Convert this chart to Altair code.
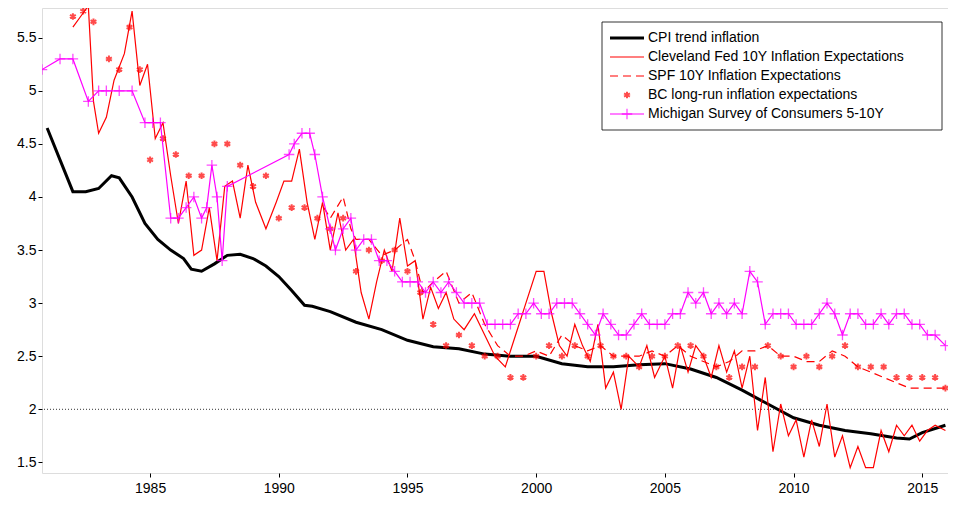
import altair as alt
import pandas as pd

# (year, value)
cpi_trend = [(1981.0, 4.65), (1981.5, 4.35), (1982.0, 4.05), (1982.5, 4.05), (1983.0, 4.08),
             (1983.5, 4.2), (1983.8, 4.18), (1984.3, 4.0), (1984.8, 3.75), (1985.3, 3.6),
             (1985.8, 3.5), (1986.3, 3.42), (1986.6, 3.32), (1987.0, 3.3), (1987.5, 3.37),
             (1988.0, 3.45), (1988.5, 3.46), (1989.0, 3.42), (1989.5, 3.35), (1990.0, 3.25),
             (1990.5, 3.12), (1991.0, 2.98), (1991.3, 2.97), (1992.0, 2.92), (1993.0, 2.82),
             (1994.0, 2.75), (1995.0, 2.65), (1996.0, 2.59), (1997.0, 2.57), (1998.0, 2.52),
             (1999.0, 2.5), (2000.0, 2.5), (2001.0, 2.43), (2002.0, 2.4), (2003.0, 2.4),
             (2004.0, 2.42), (2005.0, 2.43), (2006.0, 2.38), (2007.0, 2.3), (2008.0, 2.18),
             (2009.0, 2.05), (2010.0, 1.92), (2011.0, 1.85), (2012.0, 1.8), (2013.0, 1.77),
             (2014.0, 1.73), (2014.5, 1.72), (2015.0, 1.78), (2015.9, 1.85)]

cleveland = [(1982.0, 5.6), (1982.3, 5.7), (1982.6, 5.8), (1982.8, 4.9), (1983.0, 4.6),
             (1983.3, 4.75), (1983.6, 5.1), (1984.0, 5.35), (1984.3, 5.75), (1984.6, 5.05),
             (1984.9, 5.25), (1985.2, 4.55), (1985.5, 4.7), (1985.8, 4.2), (1986.1, 3.75),
             (1986.4, 4.15), (1986.7, 3.45), (1987.0, 3.5), (1987.3, 3.9), (1987.6, 3.4),
             (1987.9, 4.1), (1988.2, 4.15), (1988.5, 3.8), (1988.8, 4.3), (1989.1, 3.95),
             (1989.5, 3.7), (1989.9, 3.95), (1990.2, 4.15), (1990.5, 4.15), (1990.8, 4.45),
             (1991.1, 3.95), (1991.4, 3.6), (1991.7, 3.95), (1992.0, 3.5), (1992.3, 3.85),
             (1992.6, 3.5), (1992.9, 3.6), (1993.2, 3.1), (1993.5, 2.85), (1993.8, 3.2),
             (1994.1, 3.5), (1994.4, 3.3), (1994.7, 3.8), (1995.0, 3.35), (1995.3, 3.4),
             (1995.6, 2.85), (1995.9, 3.15), (1996.2, 2.95), (1996.5, 3.1), (1996.8, 2.85),
             (1997.2, 2.75), (1997.6, 2.9), (1998.0, 2.7), (1998.4, 2.5), (1998.8, 2.4),
             (1999.2, 2.7), (1999.6, 3.0), (2000.0, 3.3), (2000.3, 3.3), (2000.6, 2.9),
             (2000.9, 2.6), (2001.2, 2.5), (2001.5, 2.8), (2001.8, 2.6), (2002.1, 2.45),
             (2002.4, 2.8), (2002.7, 2.2), (2003.0, 2.35), (2003.3, 2.0), (2003.6, 2.5),
             (2004.0, 2.4), (2004.3, 2.6), (2004.6, 2.3), (2005.0, 2.5), (2005.3, 2.2),
             (2005.6, 2.6), (2005.9, 2.35), (2006.2, 2.6), (2006.5, 2.5), (2006.8, 2.3),
             (2007.1, 2.6), (2007.4, 2.35), (2007.7, 2.55), (2008.0, 2.2), (2008.3, 2.5),
             (2008.6, 1.8), (2008.9, 2.3), (2009.2, 1.6), (2009.5, 2.05), (2009.8, 1.75),
             (2010.1, 1.9), (2010.4, 1.55), (2010.7, 1.9), (2011.0, 1.65), (2011.3, 2.05),
             (2011.6, 1.55), (2011.9, 1.75), (2012.2, 1.45), (2012.5, 1.65), (2012.8, 1.45),
             (2013.1, 1.45), (2013.4, 1.8), (2013.7, 1.6), (2014.0, 1.85), (2014.3, 1.75),
             (2014.6, 1.85), (2014.9, 1.7), (2015.2, 1.8), (2015.5, 1.85), (2015.9, 1.8)]

spf = [(1991.75, 3.9), (1992.0, 3.8), (1992.5, 4.0), (1992.8, 3.7), (1993.0, 3.6), (1993.5, 3.6),
       (1994.0, 3.45), (1994.5, 3.5), (1995.0, 3.6), (1995.3, 3.4), (1995.6, 3.1), (1996.0, 3.2),
       (1996.5, 3.3), (1997.0, 3.0), (1997.5, 3.1), (1998.0, 2.8), (1998.5, 2.6), (1999.0, 2.5),
       (1999.5, 2.5), (2000.0, 2.55), (2000.5, 2.5), (2001.0, 2.7), (2001.5, 2.6), (2002.0, 2.55),
       (2002.5, 2.6), (2003.0, 2.5), (2003.5, 2.5), (2004.0, 2.5), (2004.5, 2.55), (2005.0, 2.5),
       (2005.5, 2.6), (2006.0, 2.5), (2006.5, 2.45), (2007.0, 2.4), (2007.5, 2.45), (2008.0, 2.55),
       (2008.5, 2.55), (2009.0, 2.6), (2009.5, 2.5), (2010.0, 2.5), (2010.5, 2.45), (2011.0, 2.45),
       (2011.5, 2.55), (2012.0, 2.5), (2012.5, 2.4), (2013.0, 2.35), (2013.5, 2.3), (2014.0, 2.25),
       (2014.5, 2.2), (2015.0, 2.2), (2015.9, 2.2)]

bc = [(1982.0, 5.7), (1982.4, 5.75), (1982.8, 5.65), (1983.4, 5.3), (1983.8, 5.2), (1984.2, 5.6),
      (1984.6, 5.2), (1985.0, 4.35), (1985.5, 4.55), (1986.0, 4.4), (1986.5, 4.2), (1987.0, 4.2),
      (1987.5, 4.5), (1988.0, 4.5), (1988.5, 4.3), (1989.0, 4.1), (1989.5, 4.2), (1990.0, 3.8),
      (1990.5, 3.9), (1991.0, 3.9), (1991.5, 3.8), (1992.0, 3.7), (1992.5, 3.8), (1993.0, 3.3),
      (1993.5, 3.5), (1994.0, 3.4), (1994.5, 3.5), (1995.0, 3.3), (1995.5, 3.1), (1996.0, 2.8),
      (1996.5, 2.6), (1997.0, 2.7), (1997.5, 2.6), (1998.0, 2.5), (1998.5, 2.5), (1999.0, 2.3),
      (1999.5, 2.3), (2000.0, 2.5), (2000.5, 2.6), (2001.0, 2.5), (2001.5, 2.6), (2002.0, 2.5),
      (2002.5, 2.6), (2003.0, 2.5), (2003.5, 2.5), (2004.0, 2.4), (2004.5, 2.5), (2005.0, 2.5),
      (2005.5, 2.6), (2006.0, 2.6), (2006.5, 2.5), (2007.0, 2.4), (2007.5, 2.3), (2008.0, 2.4),
      (2008.5, 2.4), (2009.0, 2.6), (2009.5, 2.5), (2010.0, 2.4), (2010.5, 2.5), (2011.0, 2.4),
      (2011.5, 2.5), (2012.0, 2.6), (2012.5, 2.4), (2013.0, 2.4), (2013.5, 2.4), (2014.0, 2.3),
      (2014.5, 2.3), (2015.0, 2.3), (2015.5, 2.3), (2015.9, 2.2)]

michigan = [(1980.8, 5.2), (1981.5, 5.3), (1982.0, 5.3), (1982.6, 4.9), (1983.0, 5.0), (1983.3, 5.0),
            (1983.8, 5.0), (1984.3, 5.0), (1984.8, 4.7), (1985.1, 4.7), (1985.4, 4.7), (1985.8, 3.8),
            (1986.1, 3.8), (1986.4, 3.9), (1986.7, 4.0), (1987.0, 3.8), (1987.2, 3.9), (1987.4, 4.3),
            (1987.6, 4.0), (1987.8, 3.4), (1988.0, 4.1), (1990.4, 4.4), (1990.6, 4.5), (1990.9, 4.6),
            (1991.2, 4.6), (1991.4, 4.4), (1991.7, 4.0), (1992.0, 3.7), (1992.2, 3.5), (1992.5, 3.7),
            (1992.8, 3.8), (1993.0, 3.5), (1993.3, 3.6), (1993.6, 3.6), (1993.9, 3.4), (1994.2, 3.4),
            (1994.5, 3.3), (1994.8, 3.2), (1995.1, 3.2), (1995.4, 3.2), (1995.7, 3.1), (1996.0, 3.2),
            (1996.3, 3.1), (1996.6, 3.2), (1996.9, 3.1), (1997.2, 3.0), (1997.5, 3.0), (1997.8, 3.0),
            (1998.1, 2.8), (1998.4, 2.8), (1998.7, 2.8), (1999.0, 2.8), (1999.3, 2.9), (1999.6, 2.9),
            (1999.9, 3.0), (2000.2, 2.9), (2000.5, 2.9), (2000.8, 3.0), (2001.1, 3.0), (2001.4, 3.0),
            (2001.7, 2.9), (2002.0, 2.8), (2002.3, 2.7), (2002.6, 2.9), (2002.9, 2.8), (2003.2, 2.7),
            (2003.5, 2.7), (2003.8, 2.8), (2004.1, 2.9), (2004.4, 2.8), (2004.7, 2.8), (2005.0, 2.8),
            (2005.3, 2.9), (2005.6, 2.9), (2005.9, 3.1), (2006.2, 3.0), (2006.5, 3.1), (2006.8, 2.9),
            (2007.1, 3.0), (2007.4, 2.9), (2007.7, 3.0), (2008.0, 2.9), (2008.3, 3.3), (2008.6, 3.2),
            (2008.9, 2.8), (2009.2, 2.9), (2009.5, 2.9), (2009.8, 2.9), (2010.1, 2.8), (2010.4, 2.8),
            (2010.7, 2.8), (2011.0, 2.9), (2011.3, 3.0), (2011.6, 2.9), (2011.9, 2.7), (2012.2, 2.9),
            (2012.5, 2.9), (2012.8, 2.8), (2013.1, 2.8), (2013.4, 2.9), (2013.7, 2.8), (2014.0, 2.9),
            (2014.3, 2.9), (2014.6, 2.8), (2014.9, 2.8), (2015.2, 2.7), (2015.5, 2.7), (2015.9, 2.6)]

legend_labels = ['CPI trend inflation', 'Cleveland Fed 10Y Inflation Expectations',
                 'SPF 10Y Inflation Expectations', 'BC long-run inflation expectations',
                 'Michigan Survey of Consumers 5-10Y']
target = [2.0]

FONT = 'Liberation Sans'
PLUS = 'M-1,0L1,0M0,-1L0,1'
STAR = 'M0,-1L0,1M-0.87,-0.5L0.87,0.5M-0.87,0.5L0.87,-0.5'
W, H = 906, 465


def frame(pairs):
    return pd.DataFrame(pairs, columns=['year', 'value'])


x = alt.X('year:Q', scale=alt.Scale(domain=[1980.8, 2016], nice=False),
          axis=alt.Axis(values=list(range(1985, 2016, 5)), format='d', title=None,
                        grid=False, tickSize=4, labelFontSize=14, labelFont=FONT,
                        labelColor='black', domain=False, tickColor='black', labelPadding=4))
y = alt.Y('value:Q', scale=alt.Scale(domain=[1.4, 5.78], nice=False, zero=False),
          axis=alt.Axis(values=[1.5, 2, 2.5, 3, 3.5, 4, 4.5, 5, 5.5], format='~g', title=None,
                        grid=False, tickSize=4, labelFontSize=14, labelFont=FONT,
                        labelColor='black', domain=False, tickColor='black'))

ref = alt.Chart(pd.DataFrame({'value': target})).mark_rule(
    color='black', strokeDash=[1, 2], strokeWidth=0.8).encode(y=y)

cpi = alt.Chart(frame(cpi_trend)).mark_line(color='black', strokeWidth=3, clip=True).encode(x=x, y=y)
clev = alt.Chart(frame(cleveland)).mark_line(color='#ff0000', strokeWidth=1.2, clip=True).encode(x=x, y=y)
spf_l = alt.Chart(frame(spf)).mark_line(color='#ff0000', strokeWidth=1.2, strokeDash=[8, 5],
                                        clip=True).encode(x=x, y=y)
bc_p = alt.Chart(frame(bc)).mark_point(shape=STAR, color='#ff0000', size=45, strokeWidth=2,
                                       clip=True).encode(x=x, y=y)
mich_l = alt.Chart(frame(michigan)).mark_line(color='#ff00ff', strokeWidth=1.2, clip=True).encode(x=x, y=y)
mich_p = alt.Chart(frame(michigan)).mark_point(shape=PLUS, color='#ff00ff', size=110, strokeWidth=1.3,
                                               clip=True).encode(x=x, y=y)

# legend box in the top right corner
lx0, lx1, ly0, row = 560, 900, 14, 19
one = pd.DataFrame({'a': [0]})
sy = [ly0 + 16 + k * row for k in range(5)]
box = alt.Chart(one).mark_rect(fill='white', stroke='black', strokeWidth=0.8).encode(
    x=alt.value(lx0), x2=alt.value(lx1), y=alt.value(ly0), y2=alt.value(ly0 + 4 * row + 32))


def seg(k, **kw):
    return alt.Chart(one).mark_rule(**kw).encode(
        x=alt.value(lx0 + 8), x2=alt.value(lx0 + 42), y=alt.value(sy[k]))


def sym(k, **kw):
    return alt.Chart(one).mark_point(**kw).encode(x=alt.value(lx0 + 25), y=alt.value(sy[k]))


def label(k):
    return alt.Chart(one).mark_text(align='left', baseline='middle', fontSize=14, font=FONT,
                                    color='black', text=legend_labels[k]).encode(
        x=alt.value(lx0 + 46), y=alt.value(sy[k]))


legend = (box + seg(0, color='black', strokeWidth=3) + seg(1, color='#ff0000', strokeWidth=1.2)
          + seg(2, color='#ff0000', strokeWidth=1.2, strokeDash=[8, 5])
          + sym(3, shape=STAR, color='#ff0000', size=45, strokeWidth=2)
          + seg(4, color='#ff00ff', strokeWidth=1.2)
          + sym(4, shape=PLUS, color='#ff00ff', size=110, strokeWidth=1.3)
          + label(0) + label(1) + label(2) + label(3) + label(4))

chart = alt.layer(ref, cpi, clev, spf_l, bc_p, mich_l, mich_p, legend).properties(
    width=W, height=H, padding={'left': 34, 'top': 0, 'right': 0, 'bottom': 40},
    autosize=alt.AutoSizeParams(type='none')
).configure_view(stroke='black', strokeWidth=1).configure(background='white')

chart.save("out.html", embed_options={"renderer": "svg", "actions": False})
